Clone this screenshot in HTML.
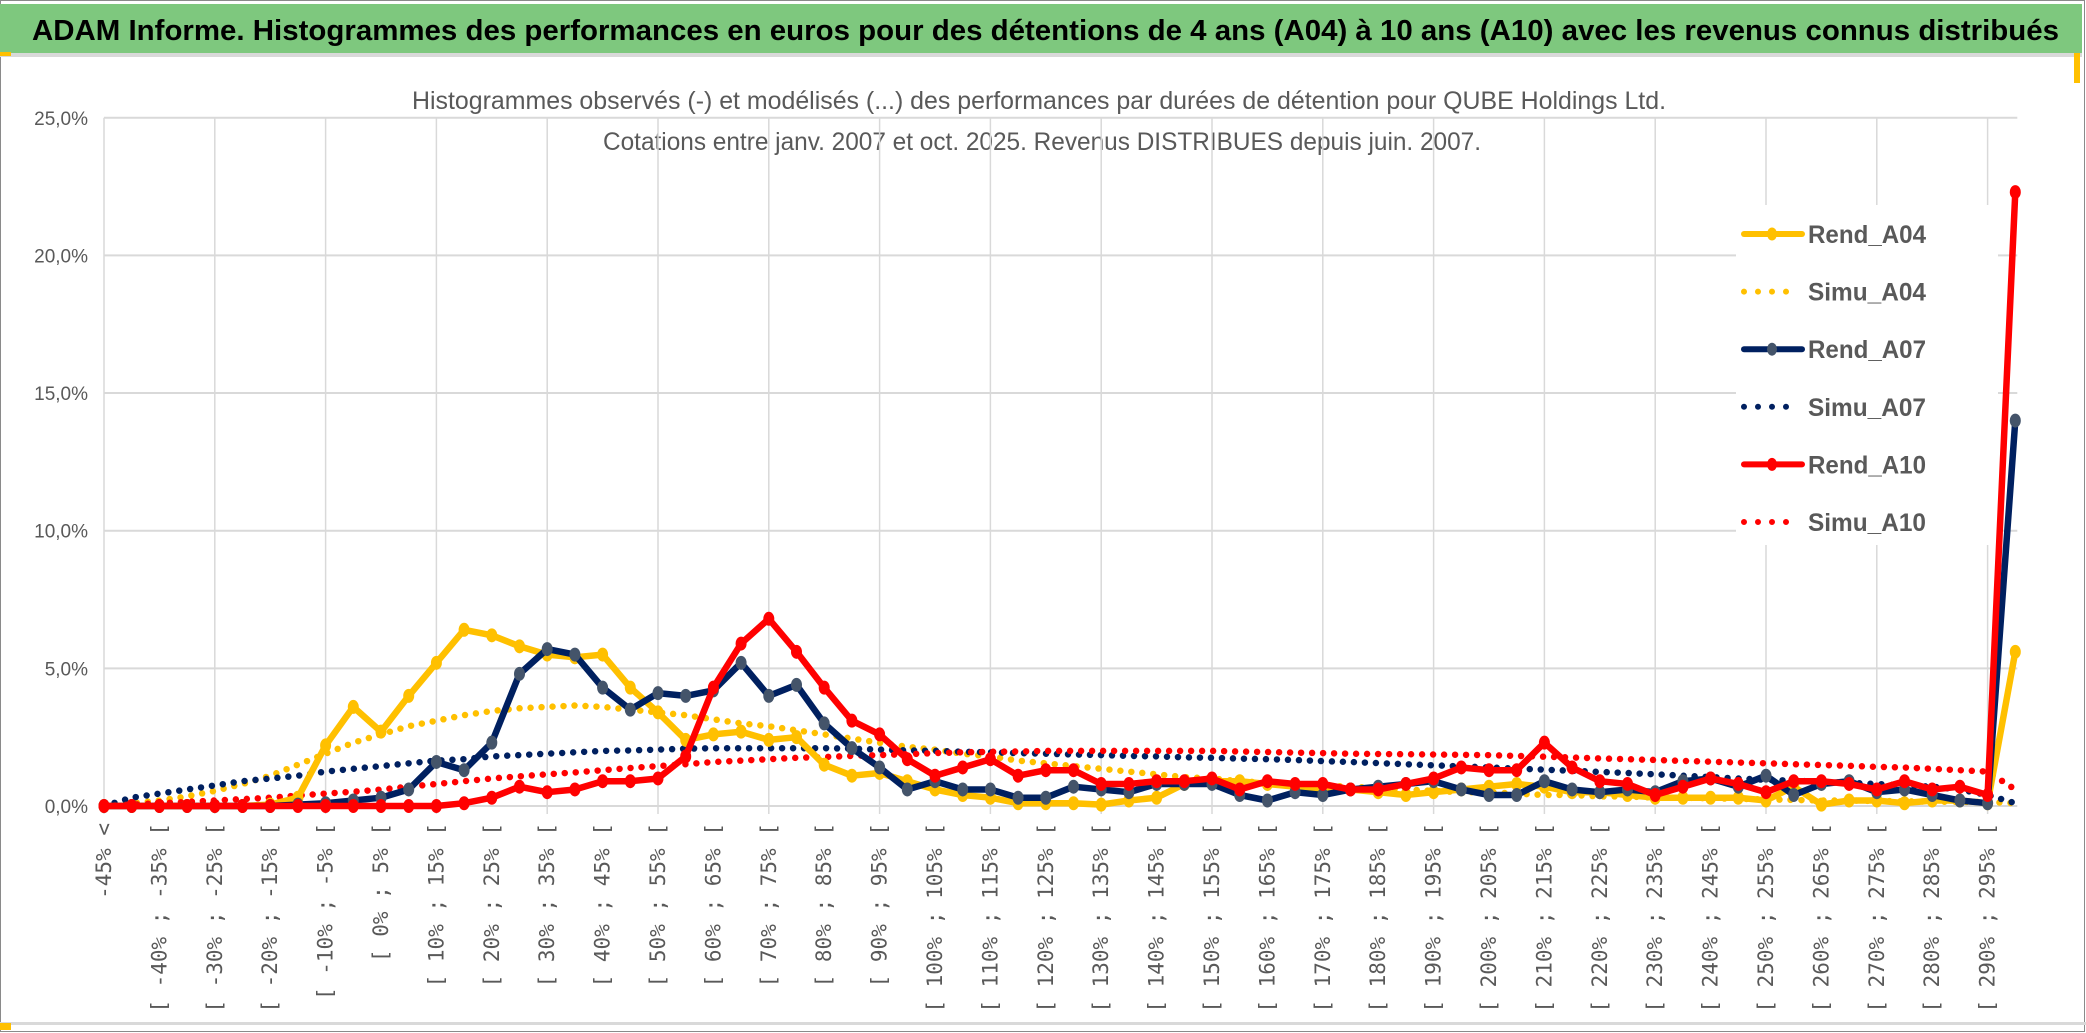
<!DOCTYPE html>
<html><head><meta charset="utf-8"><style>
html,body{margin:0;padding:0;background:#fff;}
svg{display:block;}
</style></head><body>
<svg id="chart" width="2086" height="1033" viewBox="0 0 2086 1033" xmlns="http://www.w3.org/2000/svg">
<rect x="0" y="0" width="2086" height="1033" fill="#fff"/>
<rect x="0.5" y="0.5" width="2084" height="1031" fill="none" stroke="#8a8a8a" stroke-width="1"/>
<rect x="0" y="4" width="2082" height="49" fill="#7ec87e"/>
<text x="32" y="40" font-family="Liberation Sans Narrow, Liberation Sans, sans-serif" font-weight="bold" font-size="29" fill="#000" textLength="2027" lengthAdjust="spacingAndGlyphs">ADAM Informe. Histogrammes des performances en euros pour des détentions de 4 ans (A04) à 10 ans (A10) avec les revenus connus distribués</text>
<rect x="0" y="53" width="2082" height="4" fill="#d9d9d9"/>
<rect x="0" y="52" width="11" height="4" fill="#ffc000"/>
<rect x="2074" y="53" width="6" height="30" fill="#ffc000"/>
<rect x="0" y="1022" width="2086" height="3" fill="#d9d9d9"/>
<rect x="0" y="1023" width="11" height="7" fill="#ffc000"/>
<text x="1039" y="109" text-anchor="middle" font-family="Liberation Sans Narrow, Liberation Sans, sans-serif" font-size="25" fill="#595959" textLength="1254" lengthAdjust="spacingAndGlyphs">Histogrammes observés (-) et modélisés (...) des performances par durées de détention pour QUBE Holdings Ltd.</text>
<text x="1042" y="150" text-anchor="middle" font-family="Liberation Sans Narrow, Liberation Sans, sans-serif" font-size="25" fill="#595959" textLength="878" lengthAdjust="spacingAndGlyphs">Cotations entre janv. 2007 et oct. 2025. Revenus DISTRIBUES depuis juin. 2007.</text>
<g id="grid"></g>
<g id="ylabels"></g>
<g id="xlabels"></g>
<g id="legend"></g>
<g id="series"></g>
</svg>
<script>
const yTicks = [0, 5, 10, 15, 20, 25];
const rendA04 = [0,0,0,0,0,0,0.05,0.3,2.2,3.6,2.7,4.0,5.2,6.4,6.2,5.8,5.5,5.4,5.5,4.3,3.4,2.4,2.6,2.7,2.4,2.5,1.5,1.1,1.2,0.9,0.6,0.4,0.3,0.1,0.1,0.1,0.05,0.2,0.3,0.8,0.9,0.9,0.8,0.7,0.6,0.6,0.5,0.4,0.5,0.6,0.7,0.8,0.7,0.5,0.5,0.4,0.3,0.3,0.3,0.3,0.2,0.7,0.05,0.2,0.2,0.1,0.2,0.2,0.1,5.6];
const rendA07 = [0,0,0,0,0,0,0,0.05,0.1,0.2,0.3,0.6,1.6,1.3,2.3,4.8,5.7,5.5,4.3,3.5,4.1,4.0,4.2,5.2,4.0,4.4,3.0,2.1,1.4,0.6,0.9,0.6,0.6,0.3,0.3,0.7,0.6,0.5,0.8,0.8,0.8,0.4,0.2,0.5,0.4,0.6,0.7,0.8,0.9,0.6,0.4,0.4,0.9,0.6,0.5,0.6,0.5,0.9,1.0,0.7,1.1,0.4,0.8,0.9,0.5,0.6,0.4,0.2,0.1,14.0];
const rendA10 = [0,0,0,0,0,0,0,0,0,0,0,0,0,0.1,0.3,0.7,0.5,0.6,0.9,0.9,1.0,1.8,4.3,5.9,6.8,5.6,4.3,3.1,2.6,1.7,1.1,1.4,1.7,1.1,1.3,1.3,0.8,0.8,0.9,0.9,1.0,0.6,0.9,0.8,0.8,0.6,0.6,0.8,1.0,1.4,1.3,1.3,2.3,1.4,0.9,0.8,0.4,0.7,1.0,0.8,0.5,0.9,0.9,0.8,0.6,0.9,0.6,0.7,0.4,22.3];
const simuA04 = [0,0.1,0.2,0.35,0.55,0.8,1.1,1.5,1.9,2.3,2.6,2.9,3.1,3.3,3.45,3.55,3.6,3.65,3.6,3.5,3.4,3.3,3.15,3.0,2.9,2.75,2.6,2.45,2.3,2.15,2.05,1.9,1.8,1.65,1.55,1.45,1.35,1.25,1.15,1.05,1.0,0.9,0.85,0.8,0.75,0.7,0.65,0.6,0.55,0.5,0.5,0.45,0.4,0.4,0.35,0.35,0.3,0.3,0.28,0.26,0.24,0.22,0.2,0.2,0.18,0.17,0.16,0.15,0.15,0.1];
const simuA07 = [0,0.3,0.45,0.6,0.75,0.9,1.0,1.1,1.25,1.35,1.45,1.55,1.65,1.7,1.8,1.85,1.9,1.95,2.0,2.02,2.05,2.08,2.1,2.1,2.1,2.1,2.1,2.08,2.05,2.02,2.0,1.97,1.95,1.92,1.9,1.87,1.85,1.82,1.8,1.77,1.75,1.72,1.7,1.67,1.63,1.6,1.56,1.52,1.48,1.44,1.4,1.36,1.32,1.28,1.24,1.2,1.15,1.1,1.05,1.0,0.95,0.92,0.88,0.84,0.8,0.75,0.7,0.6,0.4,0.1];
const simuA10 = [0,0.05,0.1,0.15,0.2,0.25,0.3,0.38,0.45,0.52,0.6,0.7,0.8,0.9,1.0,1.08,1.15,1.22,1.3,1.38,1.45,1.52,1.6,1.65,1.7,1.75,1.78,1.82,1.85,1.88,1.92,1.95,1.97,1.98,2.0,2.0,2.0,2.0,2.0,2.0,2.0,1.98,1.96,1.94,1.92,1.9,1.89,1.88,1.87,1.86,1.85,1.82,1.79,1.76,1.73,1.7,1.67,1.64,1.61,1.58,1.55,1.52,1.49,1.46,1.42,1.4,1.35,1.3,1.25,0.6];
const nCat = 70;
const seriesNames = ['Rend_A04','Simu_A04','Rend_A07','Simu_A07','Rend_A10','Simu_A10'];

const NS = 'http://www.w3.org/2000/svg';
const X0 = 104, DX = 27.7, Y0 = 806, PY = 27.53;
function xs(i){ return X0 + i*DX; }
function ys(v){ return Y0 - v*PY; }
function catLabel(i){
  if(i===0) return '-45% <';
  const lo = -45 + 5*(i-1);
  return '[ ' + lo + '% ; ' + (lo+5) + '% [';
}
function mk(tag, attrs, parent){
  const e = document.createElementNS(NS, tag);
  for(const k in attrs) e.setAttribute(k, attrs[k]);
  parent.appendChild(e);
  return e;
}
const grid = document.getElementById('grid');
const yl = document.getElementById('ylabels');
const xl = document.getElementById('xlabels');
const ser = document.getElementById('series');
const leg = document.getElementById('legend');
const plotRight = xs(nCat-1) + 2;
for(let i=0;i<nCat;i+=4){
  const g = mk('line',{x1:xs(i),x2:xs(i),y1:ys(25),y2:Y0+8,stroke:'#d9d9d9','stroke-width':1.5},grid);
  
  
}
yTicks.forEach(function(t){
  const g = mk('line',{x1:X0,x2:plotRight,y1:ys(t),y2:ys(t),stroke:'#d9d9d9','stroke-width':2},grid);
  
  
  const tx = mk('text',{x:88,y:ys(t)+7,'text-anchor':'end','font-family':'Liberation Sans Narrow, Liberation Sans, sans-serif','font-size':19,fill:'#595959'},yl);
  tx.textContent = t.toFixed(1).replace('.',',') + '%';
  
  
});
for(let i=0;i<nCat;i+=2){
  const x = xs(i)+7;
  const tx = mk('text',{x:0,y:0,'text-anchor':'end',transform:'translate('+x+',823) rotate(-90)','font-family':'DejaVu Sans Mono, Liberation Mono, monospace','font-size':21,fill:'#595959'},xl);
  tx.textContent = catLabel(i);
  
  
}
function pts(arr){ return arr.map(function(v,i){ return xs(i).toFixed(1)+','+ys(v).toFixed(1); }).join(' '); }
function dotted(arr, color, name){
  const p = mk('polyline',{points:pts(arr),fill:'none',stroke:color,'stroke-width':6.5,'stroke-linecap':'round','stroke-dasharray':'0 11'},ser);
  
  
}
function solid(arr, color, mcolor, name){
  const p = mk('polyline',{points:pts(arr),fill:'none',stroke:color,'stroke-width':6.5,'stroke-linejoin':'round'},ser);
  
  
  arr.forEach(function(v,i){
    const c = mk('ellipse',{cx:xs(i),cy:ys(v),rx:5.5,ry:7,fill:mcolor},ser);
    
    
  });
}
dotted(simuA04,'#ffc000','simu-a04-line');
dotted(simuA07,'#002060','simu-a07-line');
dotted(simuA10,'#ff0000','simu-a10-line');
solid(rendA04,'#ffc000','#ffc000','rend-a04-line');
solid(rendA07,'#002060','#44546a','rend-a07-line');
solid(rendA10,'#ff0000','#ff0000','rend-a10-line');
const lb = mk('rect',{x:1736,y:205,width:262,height:340,fill:'#fff'},leg);


const legColors = ['#ffc000','#ffc000','#002060','#002060','#ff0000','#ff0000'];
const legMark = ['#ffc000',null,'#44546a',null,'#ff0000',null];
seriesNames.forEach(function(n,k){
  const y = 234 + k*57.6;
  const g = mk('g',{},leg);
  
  
  if(legMark[k]){
    mk('line',{x1:1744,x2:1802,y1:y,y2:y,stroke:legColors[k],'stroke-width':6,'stroke-linecap':'round'},g);
    mk('ellipse',{cx:1772,cy:y,rx:5,ry:6.5,fill:legMark[k]},g);
  } else {
    mk('line',{x1:1744,x2:1800,y1:y,y2:y,stroke:legColors[k],'stroke-width':6,'stroke-linecap':'round','stroke-dasharray':'0 14'},g);
  }
  const t = mk('text',{x:1808,y:y+9,'font-family':'Liberation Sans Narrow, Liberation Sans, sans-serif','font-size':25,'font-weight':'bold',fill:'#595959',textLength:118,lengthAdjust:'spacingAndGlyphs'},g);
  t.textContent = n;
});
</script>
</body></html>
